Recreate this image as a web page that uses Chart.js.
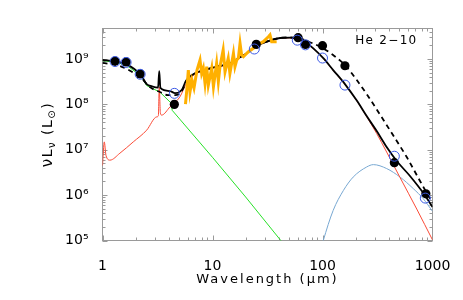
<!DOCTYPE html>
<html><head><meta charset="utf-8">
<script src="https://cdn.jsdelivr.net/npm/chart.js@4/dist/chart.umd.min.js"></script>
<style>html,body{margin:0;padding:0;background:#fff;}</style>
</head><body>
<canvas id="c" width="463" height="300"></canvas>
<script>
// ---- tick labels ----
const xTickVals = [1, 10, 100, 1000];
const xTickLabels = ['1', '10', '100', '1000'];
const yTickVals = [1e5, 1e6, 1e7, 1e8, 1e9];
const yTickLabels = ['10⁵', '10⁶', '10⁷', '10⁸', '10⁹'];

// ---- observed photometry (filled) ----
const obsX = [1.3, 1.64, 2.2, 4.5, 25, 60, 70, 100, 160, 450, 870];
const obsY = [9.0e8, 8.6e8, 4.7e8, 1.0e8, 2.1e9, 2.95e9, 2.1e9, 1.97e9, 7.1e8, 5.2e6, 1.07e6];

// ---- model photometry (open circles) ----
const modX = [1.3, 1.64, 2.2, 4.5, 24, 59, 70, 100, 160, 450, 860];
const modY = [8.8e8, 8.4e8, 4.6e8, 1.75e8, 1.66e9, 2.6e9, 2.05e9, 1.05e9, 2.66e8, 7.2e6, 8.6e5];

// ---- total model (solid black) ----
const totX = [1.0, 1.3, 1.64, 2.24, 2.52, 2.82, 3.2, 3.28, 3.36, 4.11, 4.56, 5.25, 5.74, 6.47, 8.25, 10.9, 14.4, 17.2, 20.5, 24.3, 31.1, 41.1, 50.7, 62.4, 71.8, 82.5, 101.7, 125, 160, 205, 252, 311, 383, 473, 624, 825, 1000];
const totY = [9.5e8, 8.8e8, 7.7e8, 4.4e8, 2.8e8, 2.5e8, 2.35e8, 5.4e8, 2.3e8, 1.96e8, 1.77e8, 2.07e8, 3.3e8, 4.4e8, 5.7e8, 6.8e8, 8.0e8, 1.04e9, 1.34e9, 1.87e9, 2.41e9, 2.9e9, 2.96e9, 2.72e9, 2.22e9, 1.72e9, 1.04e9, 5.7e8, 2.8e8, 1.21e8, 5.52e7, 2.58e7, 1.15e7, 5.64e6, 2.64e6, 1.11e6, 5.47e5];

// ---- alternative model (dashed black) ----
const dashX = [1.0, 1.44, 2.24, 2.7, 3.33, 3.94, 4.56, 5.18, 5.74, 6.47, 8.25, 10.9, 14.4, 17.2, 20.5, 24.3, 31.1, 41.1, 50.7, 62.4, 71.8, 94.9, 125, 160, 205, 252, 333, 440, 583, 770, 1000];
const dashY = [8.2e8, 7.0e8, 3.8e8, 2.4e8, 1.87e8, 1.6e8, 1.6e8, 1.87e8, 2.95e8, 4.3e8, 5.6e8, 6.7e8, 7.9e8, 1.03e9, 1.33e9, 1.86e9, 2.42e9, 2.92e9, 2.98e9, 2.85e9, 2.5e9, 1.87e9, 1.22e9, 7.35e8, 3.43e8, 1.69e8, 5.96e7, 2.06e7, 6.9e6, 2.05e6, 6.7e5];

// ---- warm dust component (red) ----
const redX = [1.0, 1.038, 1.076, 1.17, 1.44, 1.905, 2.52, 3.11, 3.22, 3.28, 3.36, 3.45, 4.11, 5.06, 5.74, 6.47, 8.25, 10.9, 14.4, 17.2, 20.5, 24.3, 31.1, 41.1, 50.7, 62.4, 71.8, 82.5, 101.7, 125, 160, 205, 252, 311, 383, 507, 719, 1000];
const redY = [4.5e6, 1.49e7, 7.5e6, 5.9e6, 8.4e6, 1.49e7, 2.7e7, 5.3e7, 5.6e7, 2.4e8, 6.4e7, 5.8e7, 8.8e7, 1.47e8, 2.8e8, 4.1e8, 5.5e8, 6.6e8, 7.8e8, 1.02e9, 1.32e9, 1.84e9, 2.38e9, 2.87e9, 2.93e9, 2.69e9, 2.19e9, 1.7e9, 1.03e9, 5.6e8, 2.75e8, 1.2e8, 5.38e7, 2.27e7, 8.9e6, 2.44e6, 4.94e5, 1.03e5];

// ---- stellar component (green) ----
const greenX = [1.0, 1.3, 1.64, 2.24, 2.52, 3.33, 4.2, 4.3, 10, 20, 45];
const greenY = [9.2e8, 8.5e8, 7.4e8, 4.2e8, 2.6e8, 1.86e8, 1.07e8, 7.4e7, 6.8e6, 9.1e5, 8.0e4];

// ---- cold dust component (light blue) ----
const coldX = [96, 101.7, 125, 155, 190, 252, 290, 383, 507, 669, 825, 1000];
const coldY = [6e4, 1.0e5, 4.6e5, 1.27e6, 2.5e6, 4.17e6, 4.7e6, 3.85e6, 2.5e6, 1.39e6, 8.3e5, 4.4e5];

// ---- IRS spectrum (orange) ----
const irsX = [5.68, 5.86, 6.03, 6.24, 6.51, 6.79, 7.23, 7.70, 7.97, 8.25, 8.55, 8.86, 9.16, 9.84, 10.2, 10.9, 11.3, 11.7, 12.5, 13.0, 13.9, 14.4, 15.5, 16.0, 16.6, 17.2, 17.8, 18.4, 19.1, 21.1, 23.5, 25.2, 29.0, 32.2, 33.3, 34.5, 38.3];
const irsY = [1.01e8, 2.29e8, 5.7e8, 1.87e8, 3.4e8, 2.29e8, 5.7e8, 9.5e8, 4.8e8, 6.3e8, 2.9e8, 6.8e8, 2.66e8, 6.3e8, 2.44e8, 8.0e8, 3.15e8, 6.8e8, 1.58e9, 5.2e8, 1.04e9, 4.8e8, 1.34e9, 6.8e8, 9.5e8, 1.05e9, 2.22e9, 1.22e9, 1.12e9, 1.43e9, 1.72e9, 2.04e9, 2.41e9, 3.1e9, 3.39e9, 2.41e9, 2.41e9];

const objName = 'He 2−10';
const xTitle = 'Wavelength (µm)';

const pts = (xs, ys) => xs.map((x, i) => ({x: x, y: ys[i]}));
const line = (xs, ys, color, width, order, extra) => Object.assign({
  data: pts(xs, ys), showLine: true, borderColor: color, borderWidth: width,
  pointRadius: 0, pointHoverRadius: 0, fill: false, order: order, tension: 0
}, extra || {});

const FONT = "'DejaVu Sans', sans-serif";

const framePlugin = {
  id: 'frame',
  beforeDatasetsDraw(chart) {
    const {ctx, chartArea: a, scales: {x, y}} = chart;
    ctx.save();
    ctx.strokeStyle = '#9a9a9a';
    ctx.lineWidth = 1;
    ctx.strokeRect(a.left, a.top, a.right - a.left, a.bottom - a.top);
    ctx.beginPath();
    for (let d = 0; d < 3; d++) for (let m = 1; m < 10; m++) {
      const v = m * Math.pow(10, d);
      const px = Math.round(x.getPixelForValue(v)) + 0.5;
      const len = m === 1 ? 5 : 3;
      ctx.moveTo(px, a.bottom); ctx.lineTo(px, a.bottom - len);
      ctx.moveTo(px, a.top); ctx.lineTo(px, a.top + len);
    }
    for (let d = 5; d < 10; d++) for (let m = 1; m < 10; m++) {
      const v = m * Math.pow(10, d);
      if (v > y.max) break;
      const py = Math.round(y.getPixelForValue(v)) + 0.5;
      const len = m === 1 ? 5 : 3;
      ctx.moveTo(a.left, py); ctx.lineTo(a.left + len, py);
      ctx.moveTo(a.right, py); ctx.lineTo(a.right - len, py);
    }
    ctx.stroke();
    ctx.restore();
  },
  afterDraw(chart) {
    const {ctx, chartArea: a} = chart;
    ctx.save();
    ctx.fillStyle = '#000';
    // x title
    ctx.font = '13px ' + FONT;
    ctx.letterSpacing = '2px';
    ctx.textAlign = 'center';
    ctx.textBaseline = 'alphabetic';
    ctx.fillText(xTitle, (a.left + a.right) / 2, 283);
    // object name
    ctx.font = '12px ' + FONT;
    ctx.letterSpacing = '1.3px';
    ctx.textAlign = 'right';
    ctx.fillText(objName, a.right - 15, a.top + 15);
    // y title with subscripts
    const segs = [
      {t: 'ν', s: 15, dy: 0}, {t: 'L', s: 14, dy: 0}, {t: 'ν', s: 10, dy: 3},
      {t: ' (L', s: 14, dy: 0}, {t: '⊙', s: 10, dy: 3}, {t: ')', s: 14, dy: 0}
    ];
    ctx.letterSpacing = '1.5px';
    ctx.textAlign = 'left';
    let total = 0;
    segs.forEach(sg => { ctx.font = sg.s + 'px ' + FONT; sg.w = ctx.measureText(sg.t).width; total += sg.w; });
    ctx.translate(47, (a.top + a.bottom) / 2);
    ctx.rotate(-Math.PI / 2);
    let cx = -total / 2;
    segs.forEach(sg => { ctx.font = sg.s + 'px ' + FONT; ctx.fillText(sg.t, cx, 5 + sg.dy); cx += sg.w; });
    ctx.restore();
  }
};

new Chart(document.getElementById('c'), {
  type: 'scatter',
  data: {
    datasets: [
      {data: pts(modX, modY), showLine: false, pointRadius: 5, pointHoverRadius: 5,
       pointBackgroundColor: 'rgba(0,0,0,0)', pointBorderColor: 'rgb(60,90,230)', pointBorderWidth: 1, order: 0},
      {data: pts(obsX, obsY), showLine: false, pointRadius: 4.6, pointHoverRadius: 4.6,
       pointBackgroundColor: '#000', pointBorderColor: '#000', pointBorderWidth: 0, order: 1},
      line(irsX, irsY, 'rgb(255,176,0)', 3, 2),
      line(totX, totY, '#000', 1.8, 3, {cubicInterpolationMode: 'monotone'}),
      line(dashX, dashY, '#000', 1.8, 4, {cubicInterpolationMode: 'monotone', borderDash: [5, 4]}),
      line(redX, redY, 'rgb(250,75,55)', 1, 5, {cubicInterpolationMode: 'monotone'}),
      line(coldX, coldY, 'rgb(120,168,210)', 1, 6, {cubicInterpolationMode: 'monotone'}),
      line(greenX, greenY, 'rgb(40,225,40)', 1, 7)
    ]
  },
  options: {
    responsive: false, animation: false, devicePixelRatio: 1,
    layout: {padding: {left: 0, right: 30.5, top: 28.5, bottom: 0}},
    plugins: {legend: {display: false}, tooltip: {enabled: false}},
    events: [],
    scales: {
      x: {
        type: 'logarithmic', min: 1, max: 1000, position: 'bottom',
        grid: {display: false}, border: {display: false},
        ticks: {font: {family: FONT, size: 14}, color: '#000', padding: 9, autoSkip: false, maxRotation: 0,
          callback: v => { const i = xTickVals.indexOf(v); return i >= 0 ? xTickLabels[i] : ''; }},
        afterBuildTicks: s => { s.ticks = xTickVals.map(v => ({value: v})); },
        afterFit: s => { s.height = 59.5; }
      },
      y: {
        type: 'logarithmic', min: 1e5, max: 4.7e9, position: 'left',
        grid: {display: false}, border: {display: false},
        ticks: {font: {family: FONT, size: 14}, color: '#000', padding: 6, autoSkip: false,
          callback: v => { const i = yTickVals.indexOf(v); return i >= 0 ? yTickLabels[i] : ''; }},
        afterBuildTicks: s => { s.ticks = yTickVals.map(v => ({value: v})); },
        afterFit: s => { s.width = 102.5; }
      }
    }
  },
  plugins: [framePlugin]
});
</script>
</body></html>
